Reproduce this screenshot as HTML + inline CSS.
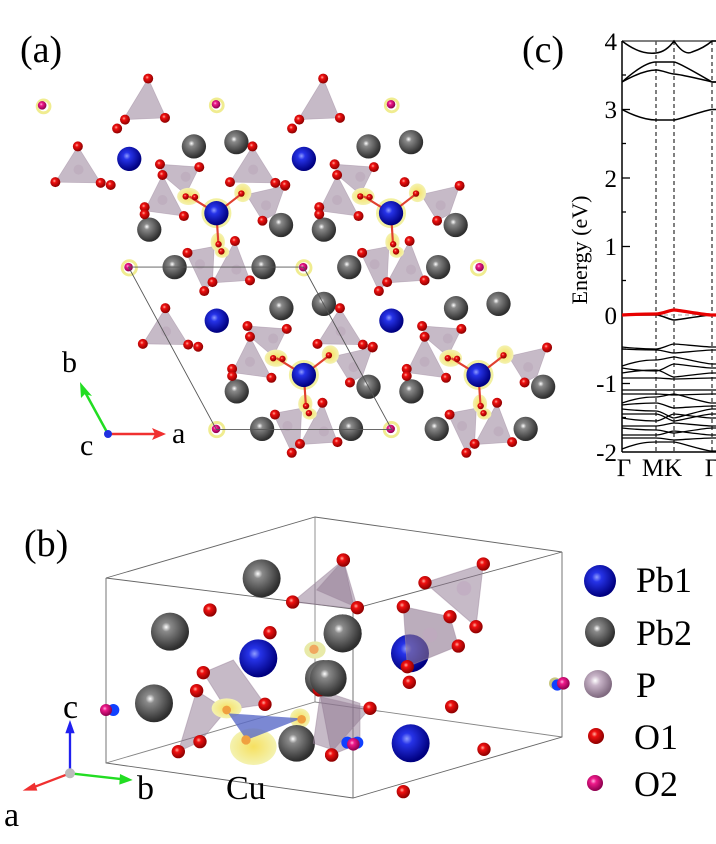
<!DOCTYPE html>
<html><head><meta charset="utf-8">
<style>
html,body{margin:0;padding:0;background:#fff;}
svg{display:block;}
text{font-family:"Liberation Serif",serif;fill:#000;}
</style></head>
<body>
<svg width="716" height="844" viewBox="0 0 716 844" xmlns="http://www.w3.org/2000/svg">
<defs>
<radialGradient id="gB" cx="40%" cy="38%" r="60%"><stop offset="0" stop-color="#8f9cff"/><stop offset="0.25" stop-color="#2633e8"/><stop offset="1" stop-color="#000080"/></radialGradient>
<radialGradient id="gG" cx="40%" cy="38%" r="60%"><stop offset="0" stop-color="#ffffff"/><stop offset="0.2" stop-color="#8a8a8a"/><stop offset="1" stop-color="#2e2e2e"/></radialGradient>
<radialGradient id="gR" cx="40%" cy="38%" r="60%"><stop offset="0" stop-color="#ffb0a0"/><stop offset="0.3" stop-color="#f01010"/><stop offset="1" stop-color="#900000"/></radialGradient>
<radialGradient id="gM" cx="40%" cy="38%" r="60%"><stop offset="0" stop-color="#ffb0e0"/><stop offset="0.3" stop-color="#ee1a8a"/><stop offset="1" stop-color="#900050"/></radialGradient>
<radialGradient id="gP" cx="40%" cy="38%" r="60%"><stop offset="0" stop-color="#ffffff"/><stop offset="0.3" stop-color="#c8b4c8"/><stop offset="1" stop-color="#806a80"/></radialGradient>
<radialGradient id="gY" cx="50%" cy="50%" r="50%"><stop offset="0" stop-color="#f6e060"/><stop offset="1" stop-color="#f4f2b0"/></radialGradient>

<g id="unit">
  <g fill="#8e7690" fill-opacity="0.5" stroke="#a08aa0" stroke-opacity="0.5" stroke-width="2">
    <polygon points="218,410 155,510 282,512"/>
    <polygon points="448,460 558,468 520,545 455,490"/>
    <polygon points="455,490 405,590 515,605"/>
    <polygon points="690,545 798,520 770,600 735,618"/>
    <polygon points="520,705 600,690 595,790 572,815"/>
    <polygon points="658,675 595,792 700,785"/>
  </g>
  <g fill="#b8a4b8" fill-opacity="0.5">
    <circle cx="220" cy="475" r="14"/><circle cx="520" cy="495" r="14"/><circle cx="455" cy="560" r="14"/>
    <circle cx="745" cy="575" r="14"/><circle cx="560" cy="740" r="14"/><circle cx="662" cy="755" r="14"/>
  </g>
  <circle cx="606" cy="597" r="42" fill="#f2f0a0"/>
  <ellipse cx="528" cy="550" rx="32" ry="24" fill="url(#gY)"/>
  <ellipse cx="680" cy="540" rx="24" ry="26" fill="url(#gY)"/>
  <ellipse cx="610" cy="678" rx="20" ry="26" fill="url(#gY)"/>
  <ellipse cx="622" cy="706" rx="20" ry="16" fill="url(#gY)"/>
  <g stroke="#e04030" stroke-width="6">
    <line x1="606" y1="597" x2="530" y2="550"/><line x1="606" y1="597" x2="680" y2="540"/>
    <line x1="606" y1="597" x2="612" y2="690"/>
  </g>
  <g fill="url(#gG)">
    <circle cx="543" cy="410" r="34"/><circle cx="662" cy="398" r="34"/><circle cx="418" cy="643" r="34"/>
    <circle cx="787" cy="630" r="34"/><circle cx="489" cy="748" r="34"/><circle cx="738" cy="748" r="34"/>
  </g>
  <g fill="url(#gB)"><circle cx="362" cy="445" r="34"/><circle cx="606" cy="597" r="34"/></g>
  <g fill="url(#gR)">
    <circle cx="218" cy="410" r="14"/><circle cx="155" cy="510" r="14"/><circle cx="282" cy="512" r="14"/><circle cx="310" cy="518" r="14"/>
    <circle cx="448" cy="460" r="14"/><circle cx="558" cy="468" r="14"/><circle cx="455" cy="490" r="14"/>
    <circle cx="405" cy="580" r="14"/><circle cx="405" cy="600" r="14"/><circle cx="515" cy="605" r="14"/>
    <circle cx="798" cy="520" r="14"/><circle cx="735" cy="618" r="14"/>
    <circle cx="525" cy="708" r="14"/><circle cx="658" cy="675" r="14"/><circle cx="572" cy="815" r="14"/>
    <circle cx="595" cy="790" r="14"/><circle cx="700" cy="785" r="14"/>
    <circle cx="520" cy="550" r="9"/><circle cx="546" cy="552" r="9"/><circle cx="676" cy="542" r="9"/>
    <circle cx="612" cy="684" r="9"/><circle cx="620" cy="704" r="9"/>
  </g>
  <circle cx="362" cy="750" r="20" fill="none" stroke="#f0ec90" stroke-width="8"/>
  <circle cx="360" cy="748" r="12" fill="url(#gM)"/>
</g>
</defs>

<!-- Panel (a) -->
<text x="20" y="62" font-size="38">(a)</text>
<g transform="scale(0.3571)">
  <g fill="#8e7690" fill-opacity="0.5" stroke="#a08aa0" stroke-opacity="0.5" stroke-width="2">
    <polygon points="415,220 345,335 465,330"/><polygon points="905,220 835,335 950,330"/>
  </g>
  <use href="#unit"/>
  <use href="#unit" transform="translate(489,0)"/>
  <use href="#unit" transform="translate(245,453)"/>
  <use href="#unit" transform="translate(734,453)"/>
  <polygon points="360,748 850,748 1097,1203 606,1203" fill="none" stroke="#555" stroke-width="2.5"/>
  <g fill="url(#gR)">
    <circle cx="415" cy="220" r="14"/><circle cx="350" cy="335" r="14"/><circle cx="328" cy="360" r="14"/><circle cx="462" cy="330" r="14"/>
    <circle cx="905" cy="220" r="14"/><circle cx="838" cy="335" r="14"/><circle cx="818" cy="360" r="14"/><circle cx="952" cy="330" r="14"/>
    <circle cx="1133" cy="510" r="14"/>
  </g>
  <g fill="none" stroke="#f0ec90" stroke-width="8">
    <circle cx="122" cy="298" r="18"/><circle cx="607" cy="295" r="18"/><circle cx="1097" cy="295" r="18"/><circle cx="1340" cy="750" r="20"/>
  </g>
  <g fill="url(#gM)">
    <circle cx="118" cy="295" r="12"/><circle cx="605" cy="292" r="12"/><circle cx="1095" cy="292" r="12"/><circle cx="1343" cy="748" r="12"/>
  </g>
</g>
<!-- axes a -->
<line x1="108" y1="434" x2="156" y2="434" stroke="#f03030" stroke-width="2.5"/>
<polygon points="166,434 152,428 155,434 152,440" fill="#f03030"/>
<line x1="108" y1="434" x2="85" y2="392" stroke="#22dd22" stroke-width="2.5"/>
<polygon points="80,382 81,398 85,394 92,396" fill="#22dd22"/>
<circle cx="108" cy="434" r="4" fill="#2030e0"/>
<text x="62" y="372" font-size="30">b</text>
<text x="172" y="443" font-size="30">a</text>
<text x="80" y="455" font-size="30">c</text>

<!-- Panel (c) -->
<text x="522" y="62" font-size="38">(c)</text>
<g stroke="#000" fill="none">
  <line x1="656" y1="41" x2="656" y2="452" stroke-dasharray="4,3" stroke-width="1"/>
  <line x1="674" y1="41" x2="674" y2="452" stroke-dasharray="4,3" stroke-width="1"/>
  <line x1="712" y1="41" x2="712" y2="452" stroke-dasharray="4,3" stroke-width="1"/>
  <line x1="622" y1="315" x2="716" y2="315" stroke-dasharray="4,3" stroke-width="0.8" stroke="#888"/>
  <line x1="622" y1="41" x2="716" y2="41" stroke-width="1.5" stroke="#555"/>
  <line x1="622" y1="452" x2="716" y2="452" stroke-width="1.5"/>
  <line x1="622" y1="41" x2="622" y2="452" stroke-width="1.5"/>
  <g stroke-width="1.3">
    <line x1="622" y1="109.5" x2="630" y2="109.5"/><line x1="622" y1="178" x2="630" y2="178"/>
    <line x1="622" y1="246.5" x2="630" y2="246.5"/><line x1="622" y1="383.5" x2="630" y2="383.5"/>
    <line x1="622" y1="75" x2="626" y2="75"/><line x1="622" y1="143.5" x2="626" y2="143.5"/>
    <line x1="622" y1="212" x2="626" y2="212"/><line x1="622" y1="280.5" x2="626" y2="280.5"/>
    <line x1="622" y1="349" x2="626" y2="349"/><line x1="622" y1="417.5" x2="626" y2="417.5"/>
  </g>
  <g stroke-width="1.5">
    <path d="M622,41 Q640,55 656,53 Q666,52 674,41 Q684,56 692,52 Q704,48 712,41 L716,41"/>
    <path d="M622,82 C640,72 650,70 656,70 S670,74 674,74 S705,80 712,82 L716,82"/>
    <path d="M622,82 C640,66 650,62 656,62 S670,62 674,62 S705,78 712,82 L716,82"/>
    <path d="M622,109.5 C640,119 650,120 656,120 S670,120 674,120 S705,110 712,109.5 L716,109.5"/>
    <path d="M622,315 C640,315 650,315 656,315 S670,320 674,320 S705,315 712,315 L716,315"/>
  </g>
  <g stroke-width="1.3">
    <path d="M622,347 C640,349 650,349 656,349 S670,344 674,344 S705,347 712,347 L716,347"/>
    <path d="M622,349 C640,350 650,350 656,350 S670,353 674,353 S705,350 712,350 L716,350"/>
    <path d="M622,366 C640,360 650,360 656,360 S670,357 674,357 S705,364 712,364 L716,364"/>
    <path d="M622,368 C640,371 650,371 656,371 S670,364 674,364 S705,368 712,368 L716,368"/>
    <path d="M622,373 C640,370 650,370 656,370 S670,377 674,377 S705,373 712,373 L716,373"/>
    <path d="M622,378 C640,378 650,378 656,378 S670,379 674,379 S705,378 712,378 L716,378"/>
    <path d="M622,390 L716,390"/>
    <path d="M622,394 C640,394 650,394 656,394 S670,395 674,395 S705,394 712,394 L716,394"/>
    <path d="M622,403 C640,397 650,397 656,397 S670,394 674,394 S705,403 712,403 L716,403"/>
    <path d="M622,405 C640,403 650,403 656,403 S670,408 674,408 S705,406 712,406 L716,406"/>
    <path d="M622,409 C640,411 650,411 656,411 S670,418 674,418 S705,409 712,409 L716,409"/>
    <path d="M622,414 C640,414 650,414 656,414 S670,421 674,421 S705,414 712,414 L716,414"/>
    <path d="M622,418 C640,421 650,421 656,421 S670,414 674,414 S705,418 712,418 L716,418"/>
    <path d="M622,426 C640,426 650,426 656,426 S670,423 674,423 S705,426 712,426 L716,426"/>
    <path d="M622,428 C640,430 650,430 656,430 S670,433 674,433 S705,428 712,428 L716,428"/>
    <path d="M622,435 C640,435 650,435 656,435 S670,431 674,431 S705,435 712,435 L716,435"/>
    <path d="M622,438 C640,438 650,438 656,438 S670,440 674,440 S705,438 712,438 L716,438"/>
    <path d="M622,449 C640,442 650,442 656,442 S670,442 674,442 S705,451 712,451 L716,451"/>
  </g>
  <path d="M622,315 C640,314 650,314 656,314 S670,310 674,310 S705,315 712,315 L716,315" stroke="#e80000" stroke-width="3.2"/>
</g>
<g font-size="25" text-anchor="end">
  <text x="617" y="50">4</text><text x="617" y="118">3</text><text x="617" y="187">2</text>
  <text x="617" y="255">1</text><text x="617" y="324">0</text><text x="617" y="392">-1</text><text x="617" y="461">-2</text>
</g>
<text transform="translate(587,250) rotate(-90)" font-size="22" text-anchor="middle">Energy (eV)</text>
<g font-size="25" text-anchor="middle">
  <text x="624" y="476">Γ</text><text x="662" y="476">MK</text><text x="712" y="476">Γ</text>
</g>

<!-- Panel (b) -->
<text x="24" y="556" font-size="38">(b)</text>
<g stroke="#666" stroke-width="0.9" fill="none">
  <polygon points="106,578 315,517 562,552 353,609"/>
  <polyline points="106,578 106,763 353,798 562,737 562,552"/>
  <line x1="353" y1="609" x2="353" y2="798"/>
  <polyline points="106,763 315,702 562,737" stroke-opacity="0.8"/>
  <line x1="315" y1="517" x2="315" y2="702" stroke-opacity="0.8"/>
</g>
<g transform="translate(0,510) scale(0.3333)">
  <circle cx="785" cy="205" r="57" fill="url(#gG)"/>
  <circle cx="510" cy="365" r="57" fill="url(#gG)"/>
  <circle cx="462" cy="580" r="57" fill="url(#gG)"/>
  <circle cx="1028" cy="370" r="57" fill="url(#gG)"/>
  <circle cx="970" cy="505" r="55" fill="url(#gG)"/>
  <circle cx="775" cy="445" r="57" fill="url(#gB)"/>
  <ellipse cx="945" cy="420" rx="32" ry="26" fill="#e8eaa8"/><circle cx="942" cy="418" r="14" fill="#f0a860"/>
  <g fill="#8e7690" fill-opacity="0.5" stroke="#a08aa0" stroke-opacity="0.5" stroke-width="3">
    <polygon points="610,488 700,450 795,583 680,600"/>
    <polygon points="590,542 680,600 600,695 535,725"/>
    <polygon points="1030,150 878,276 1063,295"/>
    <polygon points="958,540 1080,580 1080,700 995,735"/>
  </g>
  <ellipse cx="760" cy="710" rx="70" ry="55" fill="url(#gY)"/>
  <ellipse cx="680" cy="595" rx="45" ry="30" fill="url(#gY)"/>
  <ellipse cx="900" cy="625" rx="30" ry="30" fill="url(#gY)"/>
  <polygon points="685,610 905,625 740,690" fill="#5a6ac8" fill-opacity="0.8"/>
  <circle cx="738" cy="690" r="14" fill="#f0a040"/><circle cx="680" cy="600" r="13" fill="#f0a040"/><circle cx="905" cy="628" r="13" fill="#f0a040"/>
  <circle cx="890" cy="700" r="55" fill="url(#gG)"/>
  <g fill="url(#gR)">
    <circle cx="630" cy="300" r="20"/><circle cx="810" cy="368" r="20"/><circle cx="610" cy="488" r="20"/>
    <circle cx="590" cy="542" r="20"/><circle cx="795" cy="583" r="20"/><circle cx="600" cy="695" r="20"/>
    <circle cx="535" cy="725" r="20"/><circle cx="1030" cy="150" r="20"/><circle cx="878" cy="276" r="20"/>
    <circle cx="958" cy="540" r="20"/><circle cx="995" cy="735" r="20"/>
  </g>
  <circle cx="340" cy="600" r="18" fill="#1040ff"/>
  <circle cx="318" cy="600" r="18" fill="url(#gM)"/>
  <line x1="210" y1="790" x2="210" y2="660" stroke="#2020f0" stroke-width="7"/>
  <polygon points="210,630 196,670 224,670" fill="#2020f0"/>
  <line x1="210" y1="790" x2="370" y2="808" stroke="#22dd22" stroke-width="7"/>
  <polygon points="398,810 360,792 358,824" fill="#22dd22"/>
  <line x1="210" y1="790" x2="100" y2="832" stroke="#f03030" stroke-width="7"/>
  <polygon points="68,842 104,818 112,842" fill="#f03030"/>
  <circle cx="210" cy="790" r="15" fill="#bbb"/>
</g>
<g transform="translate(320,510) scale(0.3333)">
  <g fill="#8e7690" fill-opacity="0.5" stroke="#a08aa0" stroke-opacity="0.5" stroke-width="3">
    <polygon points="70,150 -10,240 112,293"/>
    <polygon points="315,218 490,162 468,350"/>
    <polygon points="0,560 150,595 40,720 -20,700"/>
  </g>
  <circle cx="68" cy="370" r="57" fill="url(#gG)"/>
  <circle cx="25" cy="505" r="55" fill="url(#gG)"/>
  <circle cx="270" cy="430" r="57" fill="url(#gB)"/>
  <polygon points="250,290 390,320 415,408 262,470" fill="#8e7690" fill-opacity="0.6" stroke="#a08aa0" stroke-opacity="0.5" stroke-width="3"/>
  <circle cx="330" cy="375" r="22" fill="#c0a8c0" fill-opacity="0.6"/>
  <circle cx="432" cy="235" r="22" fill="#c0a8c0" fill-opacity="0.6"/>
  <circle cx="272" cy="700" r="57" fill="url(#gB)"/>
  <g fill="url(#gR)">
    <circle cx="70" cy="150" r="20"/><circle cx="112" cy="293" r="20"/><circle cx="315" cy="218" r="20"/>
    <circle cx="490" cy="162" r="20"/><circle cx="468" cy="350" r="20"/><circle cx="250" cy="290" r="20"/>
    <circle cx="390" cy="320" r="20"/><circle cx="415" cy="408" r="20"/><circle cx="262" cy="470" r="20"/>
    <circle cx="268" cy="517" r="20"/><circle cx="150" cy="595" r="20"/><circle cx="395" cy="590" r="20"/>
    <circle cx="492" cy="718" r="20"/><circle cx="250" cy="845" r="20"/><circle cx="35" cy="735" r="20"/>
  </g>
  <circle cx="82" cy="698" r="18" fill="#1040ff"/><circle cx="112" cy="698" r="18" fill="#1040ff"/>
  <circle cx="100" cy="703" r="19" fill="url(#gM)"/>
  <circle cx="705" cy="520" r="18" fill="#c8c880"/><circle cx="712" cy="525" r="17" fill="#1040ff"/>
  <circle cx="730" cy="520" r="19" fill="url(#gM)"/>
</g>
<!-- legend -->
<circle cx="600" cy="581" r="16" fill="url(#gB)"/>
<circle cx="600" cy="632" r="15" fill="url(#gG)"/>
<circle cx="598" cy="684" r="14" fill="url(#gP)"/>
<circle cx="596" cy="736" r="8" fill="url(#gR)"/>
<circle cx="595" cy="783" r="8" fill="url(#gM)"/>
<g font-size="36">
  <text x="636" y="592">Pb1</text>
  <text x="636" y="645">Pb2</text>
  <text x="636" y="697">P</text>
  <text x="634" y="749">O1</text>
  <text x="634" y="796">O2</text>
</g>
<text x="63" y="718" font-size="34">c</text>
<text x="137" y="799" font-size="34">b</text>
<text x="4" y="826" font-size="34">a</text>
<text x="226" y="799" font-size="34">Cu</text>
</svg>
</body></html>
